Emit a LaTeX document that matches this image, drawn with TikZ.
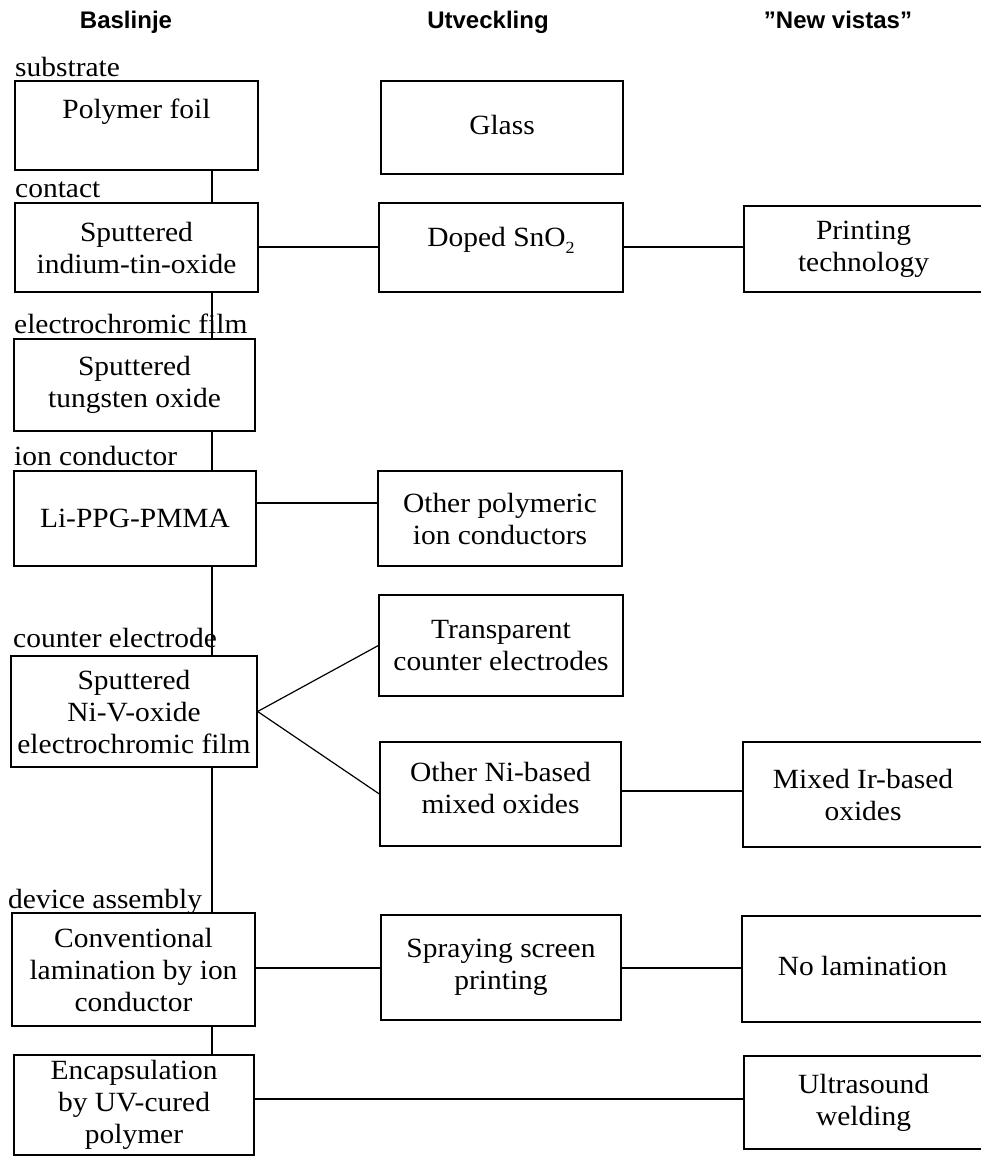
\documentclass[tikz,border=0pt]{standalone}
\usepackage{fontspec}
\setmainfont[FakeStretch=1.06]{Liberation Serif}
\newfontfamily\headfont{Liberation Sans}
\newcommand{\liftt}[2]{\raisebox{#1}[\height][\depth]{#2}}
\newcommand{\lowsub}[1]{\raisebox{-7pt}{\fontsize{17}{17}\selectfont #1}}
\tikzset{
  box/.style={draw, line width=1.3pt, inner sep=0pt, align=center,
    font=\fontsize{27.8}{32}\selectfont},
  conn/.style={line width=1.2pt},
  lab/.style={anchor=base west, inner sep=0pt, font=\fontsize{27.8}{32}\selectfont},
  head/.style={anchor=base, inner sep=0pt, font=\headfont\bfseries\fontsize{24}{28}\selectfont},
}
\begin{document}
\begin{tikzpicture}[x=1pt,y=-1pt]
\useasboundingbox (0,0) rectangle (981,1156);
\clip (0,0) rectangle (981,1156);
\fill[white] (0,0) rectangle (981,1156);

% headings
\node[head] (h1) at (126,29) {Baslinje};
\node[head] (h2) at (488,29) {Utveckling};
\node[head] (h3) at (838,29) {”New vistas”};

% labels
\node[lab] (l1) at (15,76) {substrate};
\node[lab] (l2) at (15,197) {contact};
\node[lab] (l3) at (14,333) {electrochromic film};
\node[lab] (l4) at (14,465) {ion conductor};
\node[lab] (l5) at (13,647) {counter electrode};
\node[lab] (l6) at (8,908) {device assembly};

% baseline column
\node[box, minimum width=243pt, minimum height=89pt] (poly) at (136.5,125.5) {\liftt{14pt}{Polymer foil}};
\node[box, minimum width=243pt, minimum height=89pt] (ito) at (136.5,247.5) {Sputtered\\indium-tin-oxide};
\node[box, minimum width=241pt, minimum height=92pt] (tung) at (134.5,385) {Sputtered\\tungsten oxide};
\node[box, minimum width=242pt, minimum height=95pt] (lippg) at (135,518.5) {Li-PPG-PMMA};
\node[box, minimum width=246pt, minimum height=111pt] (niv) at (134,711.5) {Sputtered\\Ni-V-oxide\\electrochromic film};
\node[box, minimum width=243pt, minimum height=113pt] (conv) at (133.5,969.5) {Conventional\\lamination by ion\\conductor};
\node[box, minimum width=240pt, minimum height=100pt] (encap) at (134,1105) {Encapsulation\\by UV-cured\\polymer};

% development column
\node[box, minimum width=242pt, minimum height=93pt] (glass) at (502,127.5) {\liftt{3pt}{Glass}};
\node[box, minimum width=244pt, minimum height=89pt] (sno2) at (501,247.5) {\liftt{7pt}{Doped SnO\lowsub{2}}};
\node[box, minimum width=244pt, minimum height=95pt] (opoly) at (500,518.5) {Other polymeric\\ion conductors};
\node[box, minimum width=244pt, minimum height=101pt] (transp) at (501,645.5) {Transparent\\counter electrodes};
\node[box, minimum width=241pt, minimum height=104pt] (oni) at (500.5,794) {\liftt{3pt}{\begin{tabular}{@{}c@{}}Other Ni-based\\mixed oxides\end{tabular}}};
\node[box, minimum width=240pt, minimum height=105pt] (spray) at (501,967.5) {Spraying screen\\printing};

% new vistas column
\node[box, minimum width=239pt, minimum height=86pt] (print) at (863.5,249) {Printing\\technology};
\node[box, minimum width=240pt, minimum height=105pt] (mixir) at (863,794.5) {Mixed Ir-based\\oxides};
\node[box, minimum width=241pt, minimum height=106pt] (nolam) at (862.5,969) {\liftt{3pt}{No lamination}};
\node[box, minimum width=239pt, minimum height=93pt] (ultra) at (863.5,1102.5) {Ultrasound\\welding};

% helper coordinates
\coordinate (vx) at (212,0);
\coordinate (y503) at (0,503);
\coordinate (y247) at (0,247);
\coordinate (y791) at (0,791);
\coordinate (y968) at (0,968);
\coordinate (y1099) at (0,1099);

% vertical spine
\draw[conn] (poly.south -| vx) -- (ito.north -| vx);
\draw[conn] (ito.south -| vx) -- (tung.north -| vx);
\draw[conn] (tung.south -| vx) -- (lippg.north -| vx);
\draw[conn] (lippg.south -| vx) -- (niv.north -| vx);
\draw[conn] (niv.south -| vx) -- (conv.north -| vx);
\draw[conn] (conv.south -| vx) -- (encap.north -| vx);

% horizontal connectors
\draw[conn] (ito.east |- y247) -- (sno2.west |- y247);
\draw[conn] (sno2.east |- y247) -- (print.west |- y247);
\draw[conn] (lippg.east |- y503) -- (opoly.west |- y503);
\draw[conn] (niv.east) -- (transp.west);
\draw[conn] (niv.east) -- (oni.west);
\draw[conn] (oni.east |- y791) -- (mixir.west |- y791);
\draw[conn] (conv.east |- y968) -- (spray.west |- y968);
\draw[conn] (spray.east |- y968) -- (nolam.west |- y968);
\draw[conn] (encap.east |- y1099) -- (ultra.west |- y1099);
\end{tikzpicture}
\end{document}
